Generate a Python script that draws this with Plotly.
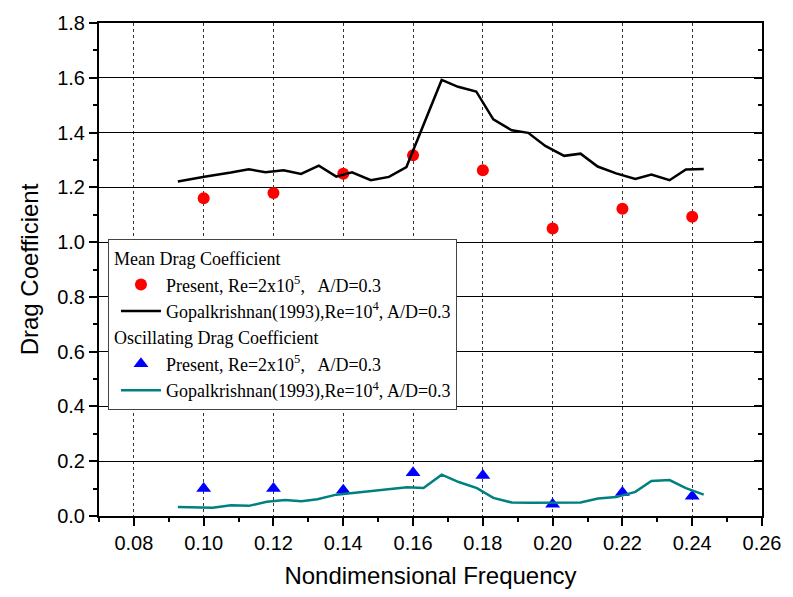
import plotly.graph_objects as go

# ---- data ----
present_freq = [0.10, 0.12, 0.14, 0.16, 0.18, 0.20, 0.22, 0.24]
present_mean_cd = [1.160, 1.179, 1.250, 1.317, 1.262, 1.050, 1.122, 1.093]
present_osc_cd = [0.100, 0.100, 0.094, 0.158, 0.148, 0.043, 0.086, 0.072]

gk_mean_freq = [0.0926, 0.1002, 0.1078, 0.1129, 0.1177, 0.1229, 0.1279, 0.1330,
                0.1380, 0.1425, 0.1479, 0.1531, 0.1581, 0.1682, 0.1729, 0.1781,
                0.1830, 0.1883, 0.1930, 0.1979, 0.2033, 0.2080, 0.2129, 0.2182,
                0.2237, 0.2283, 0.2335, 0.2382, 0.2433]
gk_mean_cd = [1.221, 1.239, 1.254, 1.266, 1.255, 1.262, 1.249, 1.279,
              1.239, 1.255, 1.226, 1.238, 1.274, 1.592, 1.567, 1.550,
              1.448, 1.408, 1.399, 1.351, 1.315, 1.323, 1.276, 1.251,
              1.231, 1.247, 1.226, 1.265, 1.267]

gk_osc_freq = [0.0926, 0.1026, 0.1078, 0.1129, 0.1181, 0.1233, 0.1280, 0.1326,
               0.1380, 0.1427, 0.1480, 0.1531, 0.1583, 0.1630, 0.1682, 0.1731,
               0.1783, 0.1830, 0.1883, 0.1935, 0.1980, 0.2030, 0.2080, 0.2130,
               0.2182, 0.2237, 0.2283, 0.2335, 0.2382, 0.2433]
gk_osc_cd = [0.033, 0.030, 0.039, 0.037, 0.052, 0.058, 0.054, 0.061,
             0.078, 0.084, 0.093, 0.100, 0.105, 0.102, 0.151, 0.124,
             0.102, 0.066, 0.049, 0.048, 0.048, 0.048, 0.049, 0.064,
             0.069, 0.088, 0.128, 0.131, 0.102, 0.078]

x_title = "Nondimensional Frequency"
y_title = "Drag Coefficient"
group1 = "Mean Drag Coefficient"
group2 = "Oscillating Drag Coefficient"
name_present = "Present, Re=2x10<sup>5</sup>,   A/D=0.3"
name_gk = "Gopalkrishnan(1993),Re=10<sup>4</sup>, A/D=0.3"

SANS = "Liberation Sans, Arial, sans-serif"
SERIF = "Liberation Serif, Times New Roman, serif"
TEAL = "#008080"
LEG_SIZE = 18

fig = go.Figure()
fig.add_trace(go.Scatter(x=present_freq, y=present_mean_cd, mode="markers",
                         name=name_present, legendgroup="g1", legendrank=1,
                         legendgrouptitle=dict(text=group1, font=dict(family=SERIF, size=LEG_SIZE, color="black")),
                         marker=dict(symbol="circle", size=12, color="#FF0000")))
fig.add_trace(go.Scatter(x=gk_mean_freq, y=gk_mean_cd, mode="lines",
                         name=name_gk, legendgroup="g1", legendrank=2,
                         line=dict(color="black", width=2.5)))
fig.add_trace(go.Scatter(x=present_freq, y=present_osc_cd, mode="markers",
                         name=name_present, legendgroup="g2", legendrank=3,
                         legendgrouptitle=dict(text=group2, font=dict(family=SERIF, size=LEG_SIZE, color="black")),
                         marker=dict(symbol="triangle-up", size=13, color="#0000FF")))
fig.add_trace(go.Scatter(x=gk_osc_freq, y=gk_osc_cd, mode="lines",
                         name=name_gk, legendgroup="g2", legendrank=4,
                         line=dict(color=TEAL, width=2.5)))
# empty trace to activate the right-hand tick axis
fig.add_trace(go.Scatter(x=[], y=[], yaxis="y2", showlegend=False, hoverinfo="skip"))

fig.update_layout(
    width=793, height=597,
    margin=dict(l=99, r=25, t=19, b=81),
    plot_bgcolor="white", paper_bgcolor="white",
    font=dict(family=SANS, color="black"),
    showlegend=True,
    legend=dict(x=0.0135, y=0.562, xanchor="left", yanchor="top",
                bgcolor="white", bordercolor="#444", borderwidth=1,
                font=dict(family=SERIF, size=LEG_SIZE, color="black"),
                tracegroupgap=0, traceorder="grouped",
                indentation=7, itemwidth=40),
    xaxis=dict(range=[0.07, 0.26], tick0=0.08, dtick=0.02, tickformat=".2f",
               ticks="outside", ticklen=8, tickwidth=1.5, tickcolor="black",
               minor=dict(dtick=0.01, ticks="outside", ticklen=4, tickcolor="black", showgrid=False),
               showline=True, linecolor="black", linewidth=2, mirror=True,
               showgrid=True, gridcolor="#333", gridwidth=1, griddash="dot",
               zeroline=False,
               tickfont=dict(family=SANS, size=20),
               title=dict(text=x_title, font=dict(family=SANS, size=24), standoff=14)),
    yaxis=dict(range=[0, 1.8], dtick=0.2, tickformat=".1f",
               ticks="outside", ticklen=8, tickwidth=1.5, tickcolor="black",
               minor=dict(dtick=0.1, ticks="outside", ticklen=4, tickcolor="black", showgrid=False),
               showline=True, linecolor="black", linewidth=2, mirror=True,
               showgrid=True, gridcolor="black", gridwidth=1,
               zeroline=False,
               tickfont=dict(family=SANS, size=20),
               title=dict(text=y_title, font=dict(family=SANS, size=24), standoff=12)),
    yaxis2=dict(range=[0, 1.8], dtick=0.2, overlaying="y", side="right",
                showticklabels=False, ticks="inside", ticklen=8, tickwidth=1.5, tickcolor="black",
                minor=dict(dtick=0.1, ticks="inside", ticklen=4, tickcolor="black"),
                showgrid=False, zeroline=False, showline=False),
)

fig.write_html("out.html")
